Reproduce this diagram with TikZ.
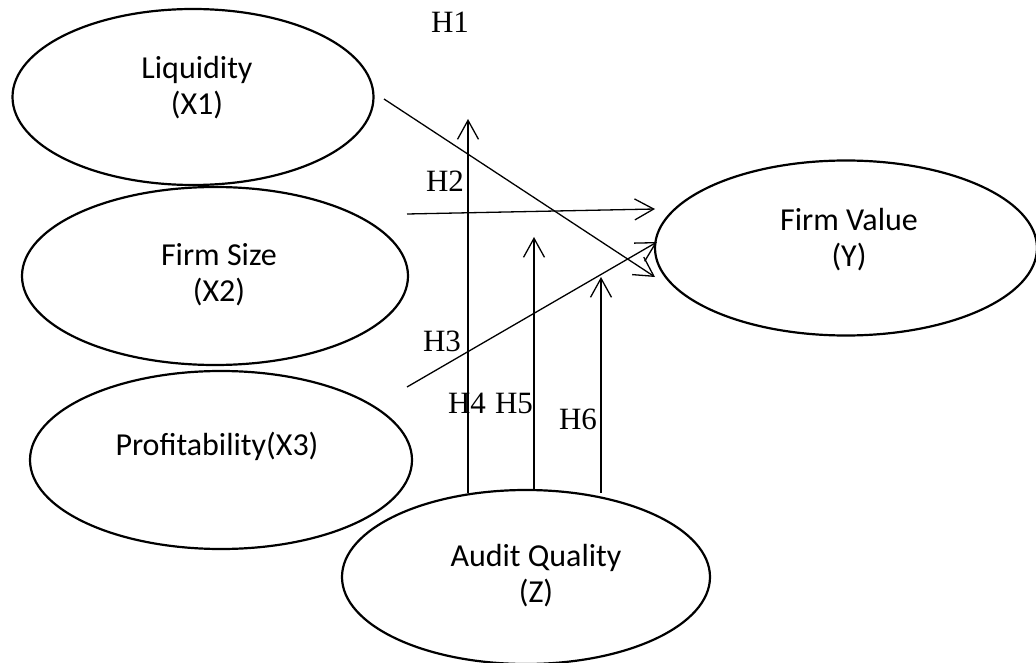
\documentclass[tikz,border=0pt]{standalone}
\usepackage{fontspec}
\setmainfont{Liberation Serif}
\newfontfamily\calib{Carlito}
\usetikzlibrary{shapes.geometric,arrows.meta}
\begin{document}
\begin{tikzpicture}[x=1pt,y=-1pt,
  var/.style={ellipse, draw, line width=2.2pt, inner sep=0pt},
  vartext/.style={align=center, font=\calib\fontsize{32}{36}\selectfont, inner sep=0pt},
  hyp/.style={anchor=base, font=\fontsize{31}{34}\selectfont, inner sep=0pt},
  link/.style={line width=1.3pt, -{Straight Barb[length=19pt,width=21pt]}}]
\useasboundingbox (0,0) rectangle (1036,663);

% constructs
\node[var, minimum width=361pt, minimum height=176pt] (liq) at (193,97) {};
\node[var, minimum width=386pt, minimum height=178pt] (size) at (215,276) {};
\node[var, minimum width=382pt, minimum height=178pt] (prof) at (221,460) {};
\node[var, minimum width=382pt, minimum height=175pt] (val) at (846,248) {};
\node[var, minimum width=368pt, minimum height=174pt] (aud) at (526,577) {};

\node[vartext] (liqt) at (197,88) {Liquidity\\(X1)};
\node[vartext] (sizet) at (219,275) {Firm Size\\(X2)};
\node[vartext] (proft) at (217,446) {Profitability(X3)};
\node[vartext] (valt) at (849,240) {Firm Value\\(Y)};
\node[vartext] (audt) at (536,576) {Audit Quality\\(Z)};

% connector ends
\coordinate (h1s) at (384,99);   \coordinate (h1e) at (655,277);
\coordinate (h2s) at (407,214);  \coordinate (h2e) at (655,209);
\coordinate (h3s) at (407,387);  \coordinate (h3e) at (657,242);
\coordinate (h4s) at (468,493);  \coordinate (h4e) at (468,119);
\coordinate (h5s) at (534,490);  \coordinate (h5e) at (534,237);
\coordinate (h6s) at (601,493);  \coordinate (h6e) at (601,277);

\draw[link] (h1s) -- (h1e);
\draw[link] (h2s) -- (h2e);
\draw[link] (h3s) -- (h3e);
\draw[link] (h4s) -- (h4e);
\draw[link] (h5s) -- (h5e);
\draw[link] (h6s) -- (h6e);

% hypothesis labels
\node[hyp] (l1) at (450,33) {H1};
\node[hyp] (l2) at (445,192) {H2};
\node[hyp] (l3) at (442,351) {H3};
\node[hyp] (l4) at (467,413) {H4};
\node[hyp] (l5) at (514,413) {H5};
\node[hyp] (l6) at (578,429) {H6};
\end{tikzpicture}
\end{document}
